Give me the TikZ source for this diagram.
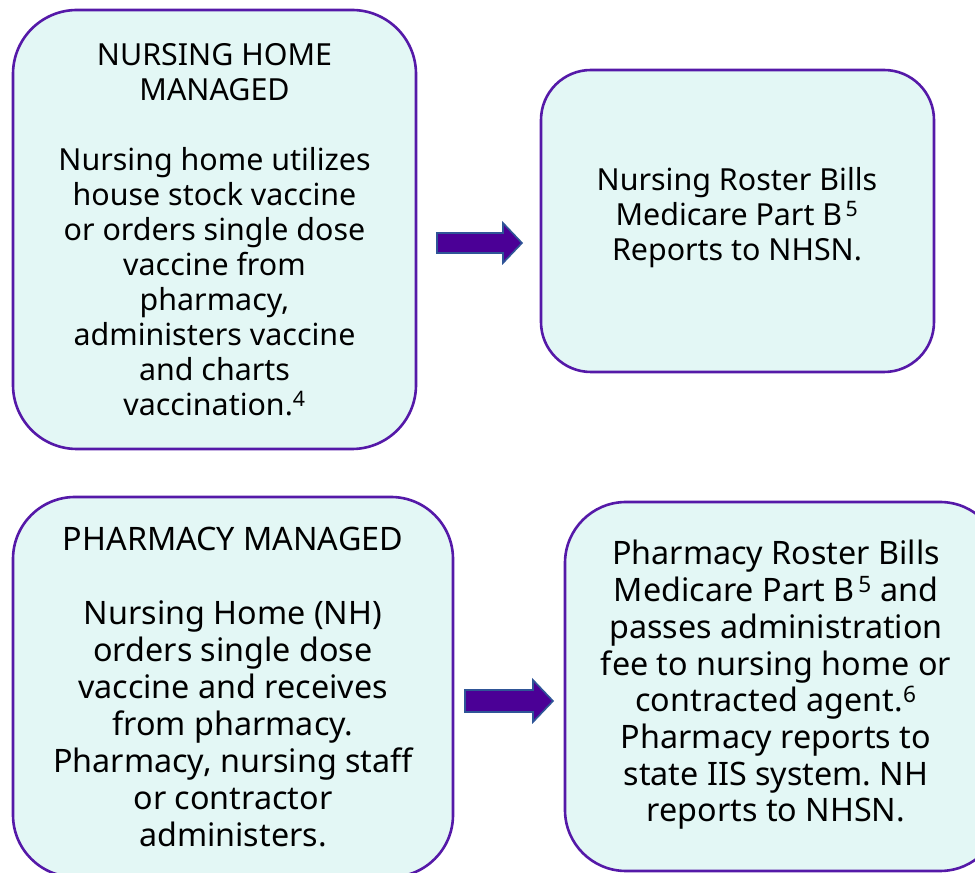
\documentclass[tikz,border=0pt]{standalone}
\usepackage{fontspec}
\setmainfont{Noto Sans}
\frenchspacing
\definecolor{boxfill}{HTML}{E3F7F5}
\definecolor{boxline}{HTML}{5519A8}
\definecolor{arrfill}{HTML}{4B0096}
\definecolor{arrline}{HTML}{2F5597}
\tikzset{
  card/.style={draw=boxline, fill=boxfill, line width=2.6pt, align=center, inner sep=0pt, text=black},
  blockarrow/.style={fill=arrfill, draw=arrline, line width=1.6pt, line join=miter},
}
\newcommand{\sups}[1]{\textsuperscript{\,#1}}
\begin{document}
\begin{tikzpicture}[x=1pt,y=1pt]
\useasboundingbox (0,0) rectangle (975,873);
\clip (0,0) rectangle (975,873);
% Box 1: x 13..416, y(px) 11..450
\node[card, minimum width=403pt, minimum height=439pt, rounded corners=64pt,
  font=\fontsize{30.4}{35}\selectfont] (b1) at (214.5,643.5)
  {NURSING HOME\\MANAGED\\[35pt]Nursing home utilizes\\house stock vaccine\\or orders single dose\\vaccine from\\pharmacy,\\administers vaccine\\and charts\\vaccination.\textsuperscript{4}};
% Box 2: x 541..934, y 70..372
\node[card, minimum width=393pt, minimum height=302pt, rounded corners=50pt] (b2) at (737.5,652) {};
\node[align=center, font=\fontsize{30.4}{35}\selectfont] (t2) at (737,655)
  {Nursing Roster Bills\\Medicare Part B\sups{5}\\Reports to NHSN.};
% Box 3: x 13..453, y 497..877
\node[card, minimum width=440pt, minimum height=380pt, rounded corners=62pt,
  font=\fontsize{32.3}{37}\selectfont] (b3) at (233,186)
  {PHARMACY MANAGED\\[37pt]Nursing Home (NH)\\orders single dose\\vaccine and receives\\from pharmacy.\\Pharmacy, nursing staff\\or contractor\\administers.};
% Box 4: x 565..1001, y 502..871
\node[card, minimum width=436pt, minimum height=369pt, rounded corners=61pt] (b4) at (783,186.5) {};
\node[align=center, font=\fontsize{32.3}{36.7}\selectfont] (t4) at (776,188)
  {Pharmacy Roster Bills\\Medicare Part B\sups{5} and\\passes administration\\fee to nursing home or\\contracted agent.\textsuperscript{6}\\Pharmacy reports to\\state IIS system. NH\\reports to NHSN.};
% Arrow 1
\draw[blockarrow] (437,640) -- (503,640) -- (503,650) -- (522,630) -- (503,610) -- (503,620) -- (437,620) -- cycle;
% Arrow 2
\draw[blockarrow] (465,183) -- (533,183) -- (533,193) -- (553,172) -- (533,151) -- (533,161) -- (465,161) -- cycle;
\end{tikzpicture}
\end{document}
